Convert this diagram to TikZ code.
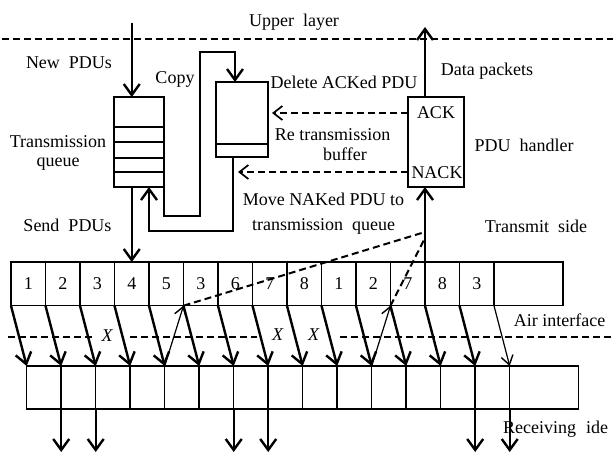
\documentclass[tikz,border=0pt]{standalone}
\usepackage{fontspec}
\setmainfont{Liberation Serif}
\usetikzlibrary{arrows.meta,calc}
\newcommand\wsp{\hspace{9pt}}
\begin{document}
\begin{tikzpicture}[x=1pt,y=-1pt,
  box/.style={draw,line width=1.5pt,inner sep=0pt,outer sep=0pt,font=\fontsize{18}{20}\selectfont},
  thickarr/.style={line width=2.4pt,-{Straight Barb[length=11pt,width=16pt,line width=2.4pt]}},
  thinarr/.style={line width=1.2pt,-{Straight Barb[length=9pt,width=12pt,line width=1.4pt]}},
  dasharr/.style={line width=2pt,dash pattern=on 7pt off 4pt,-{Straight Barb[length=9pt,width=14pt,line width=1.7pt]}},
  dline/.style={line width=2pt,dash pattern=on 7pt off 4pt},
  lbl/.style={anchor=base,inner sep=0pt,font=\fontsize{18}{20}\selectfont},
]
\useasboundingbox (0,0) rectangle (613,453);

% layer lines
\coordinate (ul0) at (2,38.7);
\coordinate (ul1) at (613,38.7);
\draw[dline] (ul0) -- (ul1);
\coordinate (a0) at (8,336.5);
\coordinate (a1) at (93,336.5);
\coordinate (a2) at (130,336.5);
\coordinate (a3) at (257,336.5);
\coordinate (a4) at (340,336.5);
\coordinate (a5) at (613,336.5);
\draw[dline] (a0) -- (a1);
\draw[dline] (a2) -- (a3);
\draw[dline] (a4) -- (a5);

% transmission queue
\node[box,minimum width=50pt,minimum height=90pt] (queue) at (139,142) {};
\foreach \yy in {127,142,158,172}
  \draw[line width=1.5pt] (queue.west |- 0,\yy) -- (queue.east |- 0,\yy);

% retransmission buffer
\node[box,minimum width=52pt,minimum height=75pt] (buffer) at (242,119.5) {};
\draw[line width=1.5pt] (buffer.west |- 0,144) -- (buffer.east |- 0,144);

% PDU handler
\node[box,minimum width=56pt,minimum height=90pt] (handler) at (436,142) {};
\node[lbl] (ack) at (436,118) {ACK};
\node[lbl] (nack) at (437,178) {NACK};

% transmit row
\foreach \i/\l in {1/1,2/2,3/3,4/4,5/5,6/3,7/6,8/7,9/8,10/1,11/2,12/7,13/8,14/3}
  \node[box,minimum width=34.5pt,minimum height=43.7pt] (t\i) at ({11+34.5*(\i-0.5)},283.85) {\l};
\node[box,minimum width=69pt,minimum height=43.7pt] (t15) at (528.5,283.85) {};

% receiving row
\foreach \i in {1,...,14}
  \node[box,minimum width=34.5pt,minimum height=43pt] (r\i) at ({26.7+34.5*(\i-0.5)},387.5) {};
\node[box,minimum width=69pt,minimum height=43pt] (r15) at (544.2,387.5) {};

% air arrows
\foreach \i in {1,...,14}
  \draw[thickarr] (t\i.south west) -- (r\i.north west);
\draw[thinarr] (t15.south west) -- (r15.north west);
\draw[thinarr] (r5.north west) -- (t6.south west);
\draw[thinarr] (r11.north west) -- (t12.south west);

% output arrows
\foreach \i in {2,3,7,8,14,15}
  \draw[thickarr] (r\i.south west) -- ++(0,43);

% NACK feedback
\coordinate (n1) at (t13.north west |- 0,232);
\coordinate (n2) at (t13.north west |- 0,238);
\draw[dline] (t6.south west) -- (n1);
\draw[dline] (t12.south west) -- (n2);
\draw[thickarr] (t13.north west) -- (t13.north west |- handler.south);

% data packets
\coordinate (dp) at (t13.north west |- 0,27);
\draw[thickarr] (t13.north west |- handler.north) -- (dp);

% new PDUs / send PDUs
\coordinate (np) at (t4.north |- 0,23);
\draw[thickarr] (np) -- (np |- queue.north);
\draw[thickarr] (queue.south -| t4.north) -- (t4.north);

% copy path
\coordinate (cp1) at (queue.south east |- 0,216);
\coordinate (cp2) at (200,216);
\coordinate (cp3) at (200,52);
\coordinate (cp4) at (235,52);
\draw[thickarr] (queue.south east) -- (cp1) -- (cp2) -- (cp3) -- (cp4) -- (cp4 |- buffer.north);

% return path
\coordinate (rp0) at ($(buffer.south west)+(17,0)$);
\coordinate (rp1) at (rp0 |- 0,231);
\coordinate (rp2) at ($(queue.south west |- 0,231)+(35,0)$);
\draw[thickarr] (rp0) -- (rp1) -- (rp2) -- (rp2 |- queue.south);

% dashed ACK / NACK
\coordinate (ackend) at ($(buffer.east |- 0,113)+(4,0)$);
\coordinate (nackend) at ($(rp0 |- 0,172)+(5,0)$);
\draw[dasharr] (handler.west |- 0,113) -- (ackend);
\draw[dasharr] (handler.west |- 0,172) -- (nackend);

% labels
\node[lbl] (l1) at (294,26) {Upper\wsp layer};
\node[lbl] (l2) at (69,68) {New\wsp PDUs};
\node[lbl] (l3) at (175,83) {Copy};
\node[lbl] (l4) at (58,147) {Transmission};
\node[lbl] (l5) at (58,166) {queue};
\node[lbl] (l6) at (67.5,231.7) {Send\wsp PDUs};
\node[lbl] (l7) at (344,88) {Delete ACKed PDU};
\node[lbl] (l8) at (332.5,140) {Re transmission};
\node[lbl] (l9) at (345,160) {buffer};
\node[lbl] (l10) at (323.5,205) {Move NAKed PDU to};
\node[lbl] (l11) at (323.5,230) {transmission\wsp queue};
\node[lbl] (l12) at (487,75) {Data packets};
\node[lbl] (l13) at (524,151) {PDU\wsp handler};
\node[lbl] (l14) at (536,232) {Transmit\wsp side};
\node[lbl] (l15) at (559.5,326) {Air interface};
\node[lbl] (l16) at (555.5,433) {Receiving\hspace{10pt}ide};
\node[lbl] (x1) at (107.5,341) {\textit{X}};
\node[lbl] (x2) at (278,340) {\textit{X}};
\node[lbl] (x3) at (314,340) {\textit{X}};
\end{tikzpicture}
\end{document}
